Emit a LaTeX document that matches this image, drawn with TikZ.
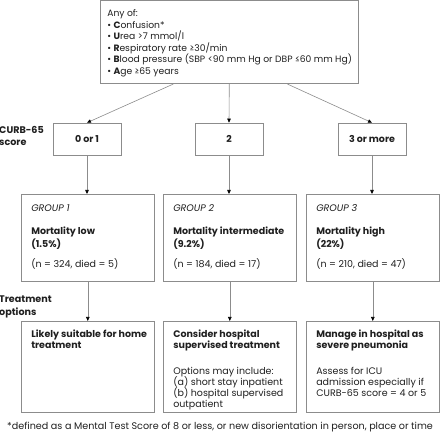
\documentclass[tikz,border=0pt]{standalone}
\usepackage{fontspec}
\setmainfont{Poppins}
\usetikzlibrary{positioning,arrows.meta,calc}

\definecolor{linegray}{gray}{0.55}
\definecolor{textgray}{gray}{0.12}

\begin{document}
\begin{tikzpicture}[
        x=1pt, y=-1pt,
        font=\fontsize{9.5}{11}\selectfont,
        box_style/.style={draw=linegray, line width=0.6pt, text=textgray},
        score_style/.style={box_style, minimum width=68pt, minimum height=32pt, inner sep=0pt, font=\fontsize{9.5}{11}\selectfont\bfseries},
        panel_style/.style={box_style, anchor=north west, inner xsep=0pt, inner ysep=10pt},
        label_style/.style={anchor=north west, align=left, inner sep=0pt, text=textgray, font=\fontsize{9.6}{12.5}\selectfont\bfseries},
        arrow_style/.style={draw=linegray, line width=0.6pt, -{Triangle[length=4pt, width=3.5pt, color=black]}}
    ]
    \useasboundingbox (0,0) rectangle (440,438);

    % Criteria
    \node[panel_style, inner ysep=8pt, font=\fontsize{9.2}{11.5}\selectfont] (crit) at (100,0.5) {\parbox[t][67pt][t]{258pt}{\raggedright\leftskip=7pt\lineskiplimit=-100pt\strut
        Any of:\\
        \textbullet\ \textbf{C}onfusion*\\
        \textbullet\ \textbf{U}rea >7 mmol/l\\
        \textbullet\ \textbf{R}espiratory rate ≥30/min\\
        \textbullet\ \textbf{B}lood pressure (SBP <90 mm Hg or DBP ≤60 mm Hg)\\
        \textbullet\ \textbf{A}ge ≥65 years}};

    % CURB-65 score
    \node[label_style] (curb) at (-1,126) {CURB-65\\score};
    \node[score_style] (S1) at (87,139) {0 or 1};
    \node[score_style] (S2) at (229,139) {2};
    \node[score_style] (S3) at (372,139) {3 or more};

    \draw[arrow_style] ($(crit.south west)!0.283!(crit.south east)$) -- (S1.north);
    \draw[arrow_style] (crit.south) -- (S2.north);
    \draw[arrow_style] ($(crit.south west)!0.725!(crit.south east)$) -- (S3.north);

    % Groups
    \node[panel_style] (G1) at (21,194) {\parbox[t][67pt][t]{133pt}{\raggedright\leftskip=10pt\lineskiplimit=-100pt\strut
        \textit{GROUP 1}\\[12pt]
        \textbf{Mortality low}\\[2pt]
        \textbf{(1.5\%)}\\[9pt]
        (n = 324, died = 5)}};
    \node[panel_style] (G2) at (163,194) {\parbox[t][67pt][t]{133pt}{\raggedright\leftskip=10pt\lineskiplimit=-100pt\strut
        \textit{GROUP 2}\\[12pt]
        \textbf{Mortality intermediate}\\[2pt]
        \textbf{(9.2\%)}\\[9pt]
        (n = 184, died = 17)}};
    \node[panel_style] (G3) at (306,194) {\parbox[t][67pt][t]{133pt}{\raggedright\leftskip=10pt\lineskiplimit=-100pt\strut
        \textit{GROUP 3}\\[12pt]
        \textbf{Mortality high}\\[2pt]
        \textbf{(22\%)}\\[9pt]
        (n = 210, died = 47)}};

    \draw[arrow_style] (S1.south) -- (S1.south |- G1.north);
    \draw[arrow_style] (S2.south) -- (S2.south |- G2.north);
    \draw[arrow_style] (S3.south) -- (S3.south |- G3.north);

    % Treatment options
    \node[label_style] (treat) at (-1,296) {Treatment\\options};
    \node[panel_style, inner ysep=9pt] (T1) at (21,321) {\parbox[t][73pt][t]{133pt}{\raggedright\leftskip=10pt\lineskiplimit=-100pt\strut
        \textbf{Likely suitable for home}\\
        \textbf{treatment}}};
    \node[panel_style, inner ysep=9pt] (T2) at (163,321) {\parbox[t][73pt][t]{133pt}{\raggedright\leftskip=10pt\lineskiplimit=-100pt\strut
        \textbf{Consider hospital}\\
        \textbf{supervised treatment}\\[15pt]
        Options may include:\\
        (a) short stay inpatient\\
        (b) hospital supervised\\
        outpatient}};
    \node[panel_style, inner ysep=9pt] (T3) at (306,321) {\parbox[t][73pt][t]{133pt}{\raggedright\leftskip=10pt\lineskiplimit=-100pt\strut
        \textbf{Manage in hospital as}\\
        \textbf{severe pneumonia}\\[15pt]
        Assess for ICU\\
        admission especially if\\
        CURB-65 score = 4 or 5}};

    \draw[arrow_style] (G1.south) -- (G1.south |- T1.north);
    \draw[arrow_style] (G2.south) -- (G2.south |- T2.north);
    \draw[arrow_style] (G3.south) -- (G3.south |- T3.north);

    % Footnote
    \node[anchor=base west, inner sep=0pt, text=textgray, font=\fontsize{9.6}{11}\selectfont] (note) at (7,430) {*defined as a Mental Test Score of 8 or less, or new disorientation in person, place or time};

\end{tikzpicture}
\end{document}
